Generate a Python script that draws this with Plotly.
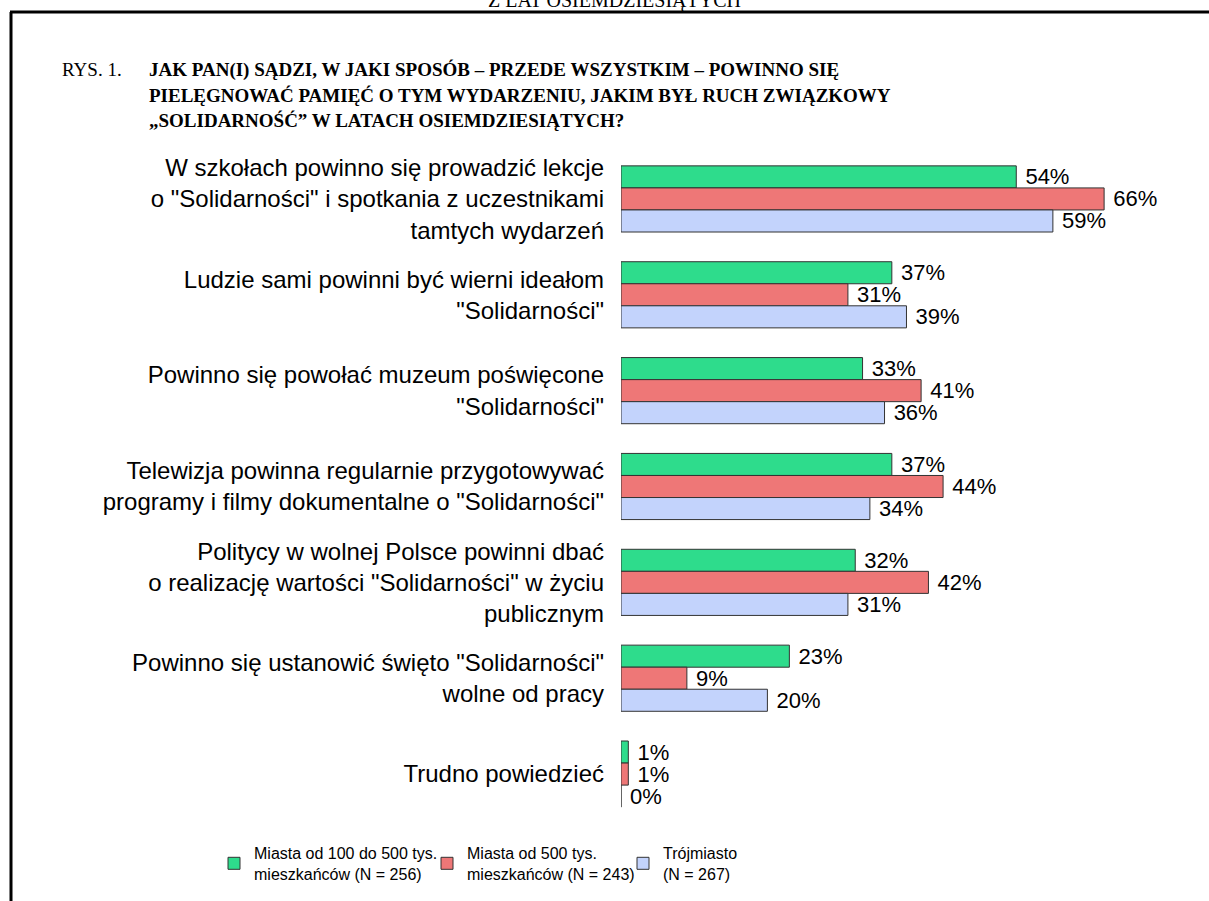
import plotly.graph_objects as go

categories = [
    "W szkołach powinno się prowadzić lekcje<br>o \"Solidarności\" i spotkania z uczestnikami<br>tamtych wydarzeń",
    "Ludzie sami powinni być wierni ideałom<br>\"Solidarności\"",
    "Powinno się powołać muzeum poświęcone<br>\"Solidarności\"",
    "Telewizja powinna regularnie przygotowywać<br>programy i filmy dokumentalne o \"Solidarności\"",
    "Politycy w wolnej Polsce powinni dbać<br>o realizację wartości \"Solidarności\" w życiu<br>publicznym",
    "Powinno się ustanowić święto \"Solidarności\"<br>wolne od pracy",
    "Trudno powiedzieć",
]
series_names = [
    "Miasta od 100 do 500 tys.<br>mieszkańców (N = 256)",
    "Miasta od 500 tys.<br>mieszkańców (N = 243)",
    "Trójmiasto<br>(N = 267)",
]
green_vals = [54, 37, 33, 37, 32, 23, 1]
red_vals = [66, 31, 41, 44, 42, 9, 1]
blue_vals = [59, 39, 36, 34, 31, 20, 0]
colors = ["#2edc8c", "#ee7777", "#c3d3fc"]

W, H = 1209, 901
L, R, T, B = 621, 19, 151, 79
pw, ph = W - L - R, H - T - B
px_per_unit = 7.32
xmax = pw / px_per_unit

def xp(px):
    return (px - L) / pw

def yp(py):
    return (H - B - py) / ph

legend_ids = ["legend", "legend2", "legend3"]
legend_text_x = [250, 463, 659]

fig = go.Figure()
for name, vals, col, lg in zip(series_names, [green_vals, red_vals, blue_vals], colors, legend_ids):
    fig.add_trace(go.Bar(
        y=categories, x=vals, name=name, orientation="h", legend=lg,
        marker=dict(color=col, line=dict(color="#333333", width=1)),
        text=[f" {v}%" for v in vals], textposition="outside",
        textfont=dict(family="Liberation Sans, Arial", size=22, color="black"),
        constraintext="none", cliponaxis=False,
    ))

legend_font = dict(family="Liberation Sans, Arial", size=16, color="black")
legend_layouts = {}
for lg, tx in zip(legend_ids, legend_text_x):
    legend_layouts[lg] = dict(orientation="h", x=xp(tx - 36), y=yp(836), xanchor="left", yanchor="top",
                              font=legend_font, bgcolor="rgba(0,0,0,0)")

fig.update_layout(
    width=W, height=H,
    margin=dict(l=L, r=R, t=T, b=B, autoexpand=False),
    paper_bgcolor="white", plot_bgcolor="white",
    barmode="group", bargap=0.31, bargroupgap=0,
    font=dict(family="Liberation Sans, Arial", size=22, color="black"),
    xaxis=dict(range=[0, xmax], visible=False),
    yaxis=dict(autorange="reversed", showline=False, showgrid=False, zeroline=False,
               ticks="", ticklabelstandoff=16,
               tickfont=dict(family="Liberation Sans, Arial", size=24, color="black")),
    showlegend=True,
    **legend_layouts,
)

# Title annotations
title_font = dict(family="Liberation Serif, Times New Roman", size=19, color="black")
fig.add_annotation(xref="paper", yref="paper", x=xp(60), y=yp(70), xanchor="left", yanchor="middle",
                   text="RYS. 1.", showarrow=False, font=title_font)
title_lines = [
    "JAK PAN(I) SĄDZI, W JAKI SPOSÓB – PRZEDE WSZYSTKIM – POWINNO SIĘ",
    "PIELĘGNOWAĆ PAMIĘĆ O TYM WYDARZENIU, JAKIM BYŁ RUCH ZWIĄZKOWY",
    "„SOLIDARNOŚĆ” W LATACH OSIEMDZIESIĄTYCH?",
]
for i, line in enumerate(title_lines):
    fig.add_annotation(xref="paper", yref="paper", x=xp(147), y=yp(70 + 25 * i),
                       xanchor="left", yanchor="middle", text=f"<b>{line}</b>",
                       showarrow=False, font=title_font)

# Cut-off page header
fig.add_annotation(xref="paper", yref="paper", x=xp(614), y=yp(14), xanchor="center", yanchor="bottom",
                   text="Z LAT OSIEMDZIESIĄTYCH", showarrow=False,
                   font=dict(family="Liberation Serif, Times New Roman", size=20, color="black"))

# Frame lines
fig.add_shape(type="line", xref="paper", yref="paper", x0=xp(10), x1=xp(1215), y0=yp(12), y1=yp(12),
              line=dict(color="black", width=3))
fig.add_shape(type="line", xref="paper", yref="paper", x0=xp(11), x1=xp(11), y0=yp(12), y1=yp(905),
              line=dict(color="black", width=3))

fig.write_html("out.html", config={"displayModeBar": False},
               post_script="document.body.style.margin='0';document.body.style.overflow='hidden';")
